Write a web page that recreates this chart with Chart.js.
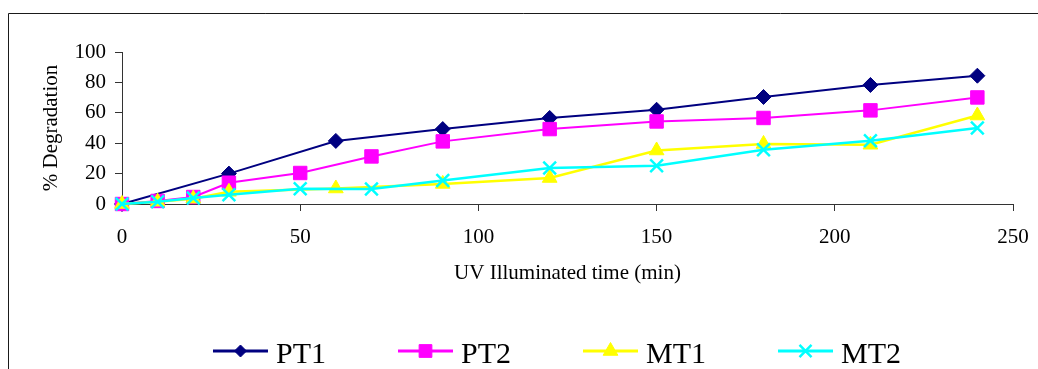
<!DOCTYPE html>
<html>
<head>
<meta charset="utf-8">
<script src="https://cdn.jsdelivr.net/npm/chart.js@4.4.1/dist/chart.umd.min.js"></script>
<style>
  html, body { margin: 0; padding: 0; background: #ffffff; overflow: hidden; }
  #wrap { width: 1038px; height: 369px; position: relative; }
</style>
</head>
<body>
<div id="wrap"><canvas id="c" width="1038" height="369"></canvas></div>
<script>
// Illumination times (min) for each sample series
const timesPT1 = [0, 30, 60, 90, 120, 150, 180, 210, 240];
const timesPT2 = [0, 10, 20, 30, 50, 70, 90, 120, 150, 180, 210, 240];
const timesMT1 = [0, 10, 20, 30, 60, 90, 120, 150, 180, 210, 240];
const timesMT2 = [0, 10, 20, 30, 50, 70, 90, 120, 150, 180, 210, 240];

// % degradation values
const pt1 = [0, 20, 41.5, 49.3, 56.6, 62, 70.4, 78.3, 84.4];
const pt2 = [0, 2, 4.6, 14, 20.4, 31.3, 41.2, 49.3, 54.3, 56.6, 61.6, 70.1];
const mt1 = [0, 1.5, 3.5, 8, 10.2, 13.2, 17.1, 35.2, 39.5, 39, 58.2];
const mt2 = [0, 1.5, 4, 6.1, 10, 9.9, 15.5, 23.7, 25.2, 35.7, 41.6, 50];

const seriesNames = ['PT1', 'PT2', 'MT1', 'MT2'];
const xTicks = [0, 50, 100, 150, 200, 250];
const yTicks = [0, 20, 40, 60, 80, 100];

const FONT = "'Liberation Serif', 'Times New Roman', Times, serif";
const AXIS = '#333333';

const pairs = (xs, ys) => xs.map((x, i) => ({ x: x, y: ys[i] }));

const styles = [
  { color: '#000080', pointStyle: 'rectRot',  radius: 7.5, border: 1,   line: 2,   order: 3, legendRadius: 6 },
  { color: '#FF00FF', pointStyle: 'rect',     radius: 9.5, border: 1,   line: 2,   order: 2, legendRadius: 9 },
  { color: '#FFFF00', pointStyle: 'triangle', radius: 8.5, border: 1,   line: 2.5, order: 1, legendRadius: 8.5 },
  { color: '#00FFFF', pointStyle: 'crossRot', radius: 9,   border: 2.5, line: 2.5, order: 0, legendRadius: 8.5 }
];
const seriesData = [pairs(timesPT1, pt1), pairs(timesPT2, pt2), pairs(timesMT1, mt1), pairs(timesMT2, mt2)];

const datasets = seriesNames.map((name, i) => ({
  label: name,
  data: seriesData[i],
  borderColor: styles[i].color,
  backgroundColor: styles[i].color,
  borderWidth: styles[i].line,
  pointStyle: styles[i].pointStyle,
  pointRadius: styles[i].radius,
  pointHoverRadius: styles[i].radius,
  pointBorderWidth: styles[i].border,
  pointBackgroundColor: styles[i].color,
  pointBorderColor: styles[i].color,
  tension: 0,
  fill: false,
  clip: false,
  order: styles[i].order
}));

// Outer frame (left and top edges of the chart box)
const framePlugin = {
  id: 'frame',
  beforeDraw(chart) {
    const ctx = chart.ctx;
    ctx.save();
    ctx.fillStyle = '#ffffff';
    ctx.fillRect(0, 0, chart.width, chart.height);
    ctx.strokeStyle = '#1a1a1a';
    ctx.lineWidth = 1;
    ctx.beginPath();
    ctx.moveTo(8.5, chart.height);
    ctx.lineTo(8.5, 13.5);
    ctx.lineTo(chart.width, 13.5);
    ctx.stroke();
    ctx.restore();
  }
};

// Legend row under the axis: line sample with marker, then the series name
const legendPlugin = {
  id: 'lineLegend',
  afterDraw(chart) {
    const ctx = chart.ctx;
    const sampleW = 55, textGap = 8, itemGap = 72;
    const cy = 351, baseline = 363;
    ctx.save();
    ctx.font = '30px ' + FONT;
    const widths = chart.data.datasets.map(d => ctx.measureText(d.label).width);
    let total = 0;
    widths.forEach((w, i) => { total += sampleW + textGap + w + (i < widths.length - 1 ? itemGap : 0); });
    let x = 557 - total / 2;
    chart.data.datasets.forEach((d, i) => {
      const st = styles[i];
      ctx.strokeStyle = st.color;
      ctx.fillStyle = st.color;
      ctx.lineWidth = 3;
      ctx.beginPath();
      ctx.moveTo(x, cy);
      ctx.lineTo(x + sampleW, cy);
      ctx.stroke();
      ctx.lineWidth = st.border;
      if (Chart.helpers && Chart.helpers.drawPoint) {
        Chart.helpers.drawPoint(ctx, { pointStyle: st.pointStyle, radius: st.legendRadius, borderWidth: st.border, rotation: 0 }, x + sampleW / 2, cy);
      }
      ctx.fillStyle = '#000000';
      ctx.textAlign = 'left';
      ctx.textBaseline = 'alphabetic';
      ctx.fillText(d.label, x + sampleW + textGap, baseline);
      x += sampleW + textGap + widths[i] + itemGap;
    });
    ctx.restore();
  }
};

new Chart(document.getElementById('c'), {
  type: 'line',
  data: { datasets: datasets },
  plugins: [framePlugin, legendPlugin],
  options: {
    responsive: false,
    animation: false,
    devicePixelRatio: 1,
    layout: { padding: { left: 0, right: 25, top: 52, bottom: 83 } },
    plugins: {
      legend: { display: false },
      tooltip: { enabled: false }
    },
    scales: {
      x: {
        type: 'linear',
        min: 0,
        max: 250,
        afterBuildTicks(scale) { scale.ticks = xTicks.map(v => ({ value: v })); },
        afterFit(scale) { scale.height = 82; },
        grid: { display: true, drawOnChartArea: false, drawTicks: true, tickLength: 7, color: AXIS, lineWidth: 1 },
        border: { display: true, color: AXIS, width: 1 },
        ticks: { color: '#000000', padding: 3, maxRotation: 0, font: { family: FONT, size: 21, lineHeight: '46px' } },
        title: { display: true, text: 'UV Illuminated time (min)', color: '#000000', padding: { top: 0, bottom: 0 }, font: { family: FONT, size: 21 } }
      },
      y: {
        type: 'linear',
        min: 0,
        max: 100,
        afterBuildTicks(scale) { scale.ticks = yTicks.map(v => ({ value: v })); },
        afterFit(scale) { scale.width = 122; },
        grid: { display: true, drawOnChartArea: false, drawTicks: true, tickLength: 7, color: AXIS, lineWidth: 1 },
        border: { display: true, color: AXIS, width: 1 },
        ticks: { color: '#000000', padding: 9, font: { family: FONT, size: 21 } },
        title: { display: true, text: '% Degradation', color: '#000000', padding: { top: 39, bottom: 0 }, font: { family: FONT, size: 21 } }
      }
    }
  }
});
</script>
</body>
</html>
